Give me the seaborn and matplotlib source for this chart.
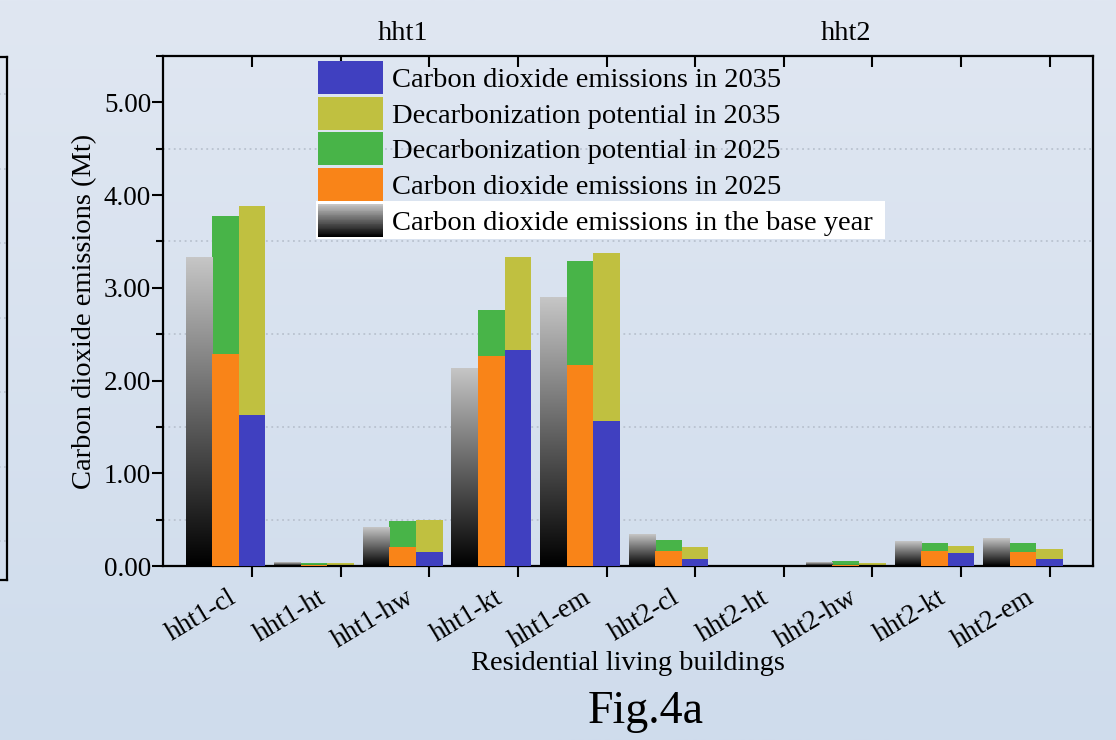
import numpy as np
import pandas as pd
import matplotlib
matplotlib.use("Agg")
import matplotlib.pyplot as plt
import matplotlib.transforms as mtransforms
import seaborn as sns
from matplotlib.patches import Patch, Rectangle
from matplotlib.legend_handler import HandlerBase
from matplotlib.colors import LinearSegmentedColormap
from matplotlib.ticker import MultipleLocator, FormatStrFormatter

# ---------------- data (Mt CO2) ----------------
buildings = ["hht1-cl", "hht1-ht", "hht1-hw", "hht1-kt", "hht1-em",
             "hht2-cl", "hht2-ht", "hht2-hw", "hht2-kt", "hht2-em"]
groups = ["hht1", "hht2"]
base_year = [3.33, 0.04, 0.42, 2.13, 2.90, 0.34, 0.01, 0.04, 0.26, 0.30]
emis_2025 = [2.29, 0.01, 0.21, 2.26, 2.17, 0.16, 0.00, 0.01, 0.165, 0.15]
decarb_2025 = [1.485, 0.02, 0.275, 0.50, 1.12, 0.117, 0.00, 0.04, 0.085, 0.10]
emis_2035 = [1.63, 0.005, 0.155, 2.33, 1.56, 0.08, 0.00, 0.005, 0.14, 0.075]
decarb_2035 = [2.25, 0.03, 0.345, 1.00, 1.815, 0.13, 0.00, 0.03, 0.08, 0.105]

labels = ["Carbon dioxide emissions in 2035",
          "Decarbonization potential in 2035",
          "Decarbonization potential in 2025",
          "Carbon dioxide emissions in 2025",
          "Carbon dioxide emissions in the base year"]

BLUE = "#4040c0"
YELLOW = "#c0c040"
GREEN = "#48b448"
ORANGE = "#f98418"
scenarios = ["base", "2025", "2035"]

gray_cmap = LinearSegmentedColormap.from_list("bar_gray", ["#000000", "#c6c6c6"])
bg_cmap = LinearSegmentedColormap.from_list("bg", ["#cfdcec", "#e0e7f2"])

# ---------------- style ----------------
sns.set_theme(style="ticks")
plt.rcParams["font.family"] = ["Liberation Serif", "DejaVu Serif"]
plt.rcParams["axes.edgecolor"] = "black"
plt.rcParams["xtick.color"] = "black"
plt.rcParams["ytick.color"] = "black"
plt.rcParams["text.color"] = "black"
plt.rcParams["axes.labelcolor"] = "black"

FS = 20.5

fig = plt.figure(figsize=(11.16, 7.4), dpi=100)

# soft slide-like background
bg = fig.add_axes([0, 0, 1, 1], zorder=-10)
grad = np.linspace(0, 1, 256).reshape(-1, 1)
bg.imshow(grad, aspect="auto", cmap=bg_cmap, origin="lower", extent=[0, 1, 0, 1])
bg.set_axis_off()

# edge of the neighbouring panel
side = fig.add_axes([-0.1, 1 - 580 / 740, 0.1063, 523 / 740], facecolor="none")
side.set_xlim(0, 1)
side.set_ylim(0, 7.02)
for yv in np.arange(7) + 0.52:
    side.axhline(yv, color="#b9c2cf", lw=1.2, ls=(0, (1, 2)))
side.set_xticks([])
side.set_yticks([])
side.spines["left"].set_visible(False)
for s in ("right", "top", "bottom"):
    side.spines[s].set_linewidth(1.6)
    side.spines[s].set_color("black")

# ---------------- main axes ----------------
ax = fig.add_axes([163 / 1116, 1 - 566 / 740, 930 / 1116, 510 / 740], facecolor="none")

n = len(buildings)
tot_2025 = np.array(emis_2025) + np.array(decarb_2025)
tot_2035 = np.array(emis_2035) + np.array(decarb_2035)

upper = pd.DataFrame({
    "building": buildings * 3,
    "scenario": np.repeat(scenarios, n),
    "value": np.concatenate([base_year, tot_2025, tot_2035]),
})
lower = pd.DataFrame({
    "building": buildings * 3,
    "scenario": np.repeat(scenarios, n),
    "value": np.concatenate([np.zeros(n), emis_2025, emis_2035]),
})

common = dict(x="building", y="value", hue="scenario", hue_order=scenarios,
              order=buildings, dodge=True, width=0.9, saturation=1,
              legend=False, errorbar=None, linewidth=0, ax=ax)
sns.barplot(data=upper, palette={"base": "#808080", "2025": GREEN, "2035": YELLOW},
            zorder=2, **common)
sns.barplot(data=lower, palette={"base": "#808080", "2025": ORANGE, "2035": BLUE},
            zorder=3, **common)

# base-year bars drawn as a vertical black-to-grey gradient
for p in ax.containers[0]:
    x0, w, h = p.get_x(), p.get_width(), p.get_height()
    if h > 0:
        ax.imshow(grad, cmap=gray_cmap, origin="lower", aspect="auto",
                  extent=[x0, x0 + w, 0, h], zorder=2, interpolation="bilinear")
    p.set_facecolor("none")

ax.set_xlim(-0.705, 9.79)
ax.set_ylim(0, 5.5)

# x ticks: marks at the third bar of each group, names near the group centre
pos = np.arange(n)
ax.set_xticks(pos + 0.3)
ax.set_xticklabels([])
ax.set_xticks(pos + 0.03, labels=buildings, minor=True)
ax.tick_params(axis="x", which="major", direction="out", length=8, width=1.5,
               bottom=True, top=False, labelbottom=False)
ax.tick_params(axis="x", which="minor", length=0, pad=14, labelsize=19.5)
for lab in ax.get_xticklabels(minor=True):
    lab.set_rotation(31)
    lab.set_ha("right")
    lab.set_va("top")
    lab.set_rotation_mode("anchor")

top = ax.secondary_xaxis("top")
top.set_xticks(pos + 0.3)
top.set_xticklabels([])
top.tick_params(direction="in", length=8, width=1.5)

# y axis
ax.yaxis.set_major_locator(MultipleLocator(1))
ax.yaxis.set_minor_locator(MultipleLocator(0.5))
ax.yaxis.set_major_formatter(FormatStrFormatter("%.2f"))
ax.tick_params(axis="y", which="major", direction="out", length=8, width=1.5,
               labelsize=19.5, left=True, right=False, pad=0.5)
ax.tick_params(axis="y", which="minor", direction="out", length=5, width=1.5,
               left=True, right=False)
ax.grid(False)
ax.yaxis.grid(True, which="minor", linestyle=(0, (1, 2)), color="#b9c2cf", linewidth=1.3)
ax.set_axisbelow(True)

for s in ax.spines.values():
    s.set_visible(True)
    s.set_linewidth(1.6)
    s.set_color("black")

ax.set_ylabel("Carbon dioxide emissions (Mt)", fontsize=FS)
ax.yaxis.set_label_coords(-0.071, 0.5)
ax.set_xlabel("Residential living buildings", fontsize=FS)
ax.xaxis.set_label_coords(0.5, -0.167)

# group titles above the frame
blend = mtransforms.blended_transform_factory(ax.transData, ax.transAxes)
for g in groups:
    centre = np.mean([i for i, b in enumerate(buildings) if b.startswith(g)])
    ax.text(centre, 1.045, g, transform=blend, ha="center", va="center", fontsize=FS)

fig.text(646 / 1116, 1 - 712 / 740, "Fig.4a", ha="center", va="center", fontsize=33)


# ---------------- legend ----------------
class GradientHandler(HandlerBase):
    def create_artists(self, legend, orig_handle, xdescent, ydescent,
                       width, height, fontsize, trans):
        steps = 40
        arts = []
        for k in range(steps):
            y = -ydescent + height * k / steps
            r = Rectangle((-xdescent, y), width, height / steps * 1.08,
                          facecolor=gray_cmap(k / (steps - 1)), edgecolor="none",
                          transform=trans)
            arts.append(r)
        return arts


grad_handle = Patch(facecolor="#808080")
handles = [Patch(facecolor=BLUE, edgecolor="none"),
           Patch(facecolor=YELLOW, edgecolor="none"),
           Patch(facecolor=GREEN, edgecolor="none"),
           Patch(facecolor=ORANGE, edgecolor="none"),
           grad_handle]

leg = ax.legend(handles, labels, handler_map={grad_handle: GradientHandler()},
                loc="upper left", bbox_to_anchor=(318 / 1116, 1 - 61 / 740),
                bbox_transform=fig.transFigure, frameon=False, fontsize=FS,
                handlelength=2.28, handleheight=1.4, labelspacing=0.1,
                handletextpad=0.32, borderpad=0, borderaxespad=0)

# white strip behind the last legend entry
fig.canvas.draw()
inv = fig.transFigure.inverted()
lb = leg.get_window_extent()
tb = leg.get_texts()[-1].get_window_extent()
row_h = (lb.height) / len(labels)
y0 = lb.y0 - 2
x0 = lb.x0 - 2
x1 = tb.x1 + 12
(fx0, fy0) = inv.transform((x0, y0))
(fx1, fy1) = inv.transform((x1, y0 + row_h + 3))
ax.add_patch(Rectangle((fx0, fy0), fx1 - fx0, fy1 - fy0,
                       transform=fig.transFigure, facecolor="white",
                       edgecolor="none", zorder=4, clip_on=False))

fig.savefig("out.png", dpi=100)
